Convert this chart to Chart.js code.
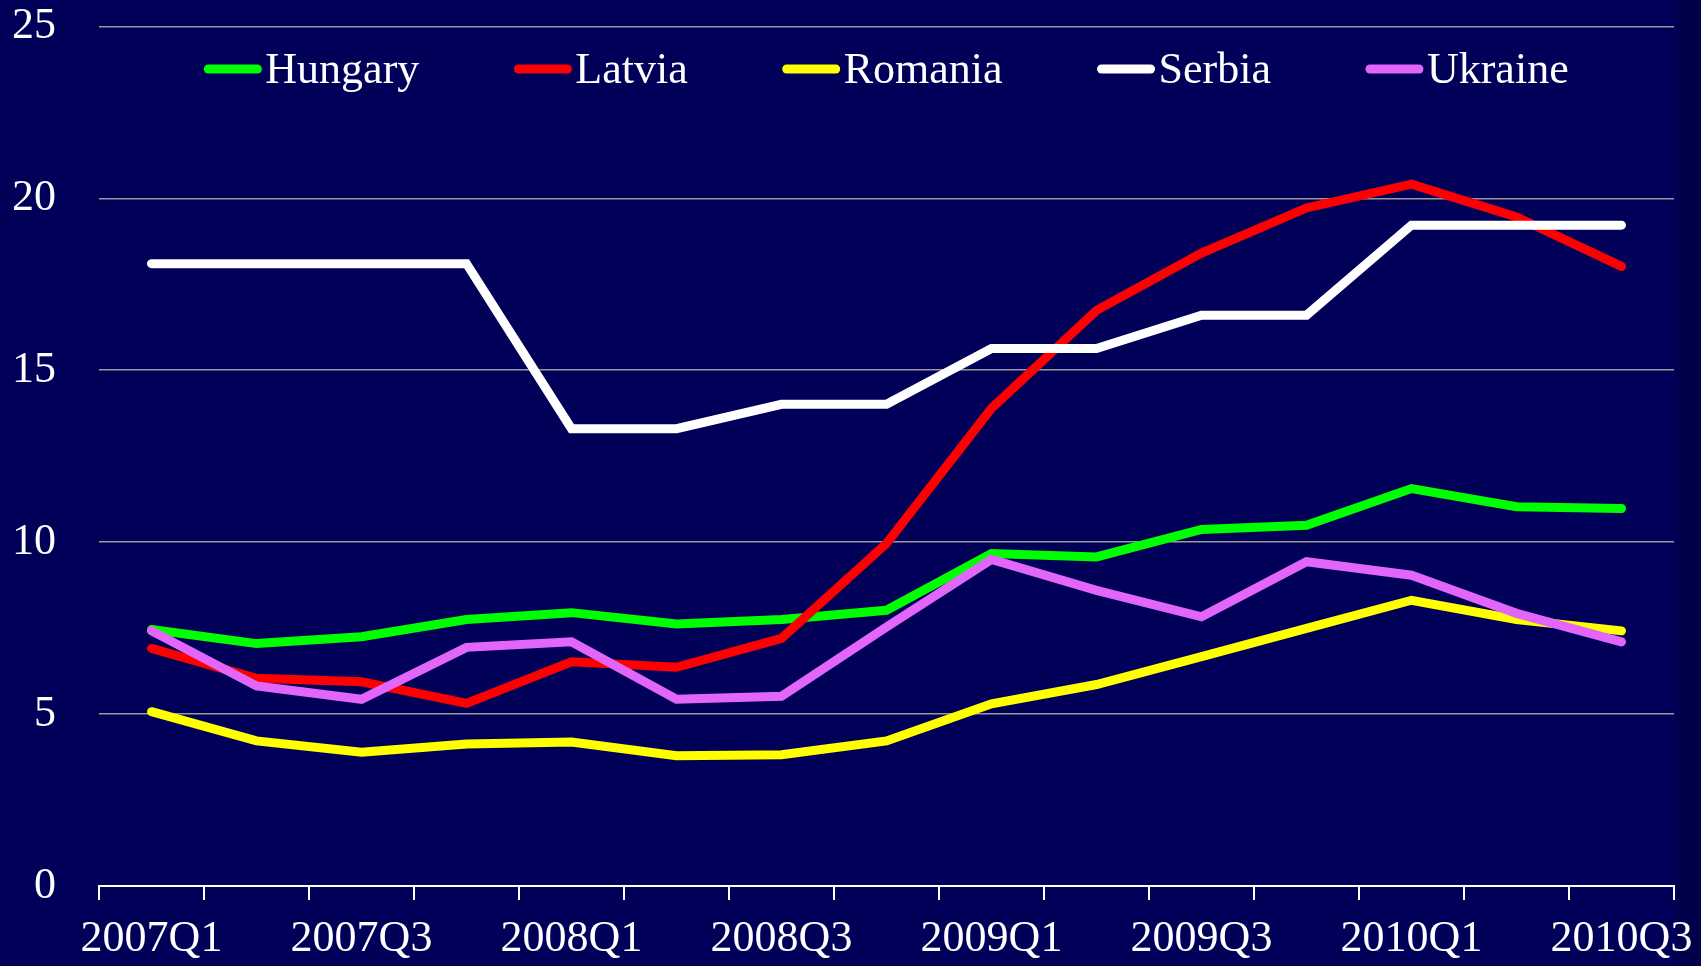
<!DOCTYPE html>
<html>
<head>
<meta charset="utf-8">
<script src="https://cdn.jsdelivr.net/npm/chart.js@4"></script>
<style>
    html, body {
        margin: 0;
        padding: 0;
        background: #00004b;
        overflow: hidden;
    }
    #wrap {
        width: 1701px;
        height: 966px;
    }
</style>
</head>
<body>
<div id="wrap"><canvas id="chart"></canvas></div>
<script>

const quarters = [
    "2007Q1", "2007Q2", "2007Q3", "2007Q4",
    "2008Q1", "2008Q2", "2008Q3", "2008Q4",
    "2009Q1", "2009Q2", "2009Q3", "2009Q4",
    "2010Q1", "2010Q2", "2010Q3"
];

const hungary = [7.46, 7.05, 7.25, 7.75, 7.95, 7.62, 7.75, 8.02, 9.67, 9.57, 10.37, 10.49, 11.56, 11.03, 10.98];

const latvia = [6.91, 6.04, 5.94, 5.31, 6.52, 6.36, 7.20, 9.96, 13.89, 16.74, 18.41, 19.72, 20.41, 19.46, 18.02];

const romania = [5.07, 4.22, 3.89, 4.13, 4.19, 3.79, 3.82, 4.22, 5.30, 5.86, 6.67, 7.49, 8.31, 7.75, 7.42];

const serbia = [18.10, 18.10, 18.10, 18.10, 13.30, 13.30, 14.01, 14.01, 15.63, 15.63, 16.60, 16.60, 19.22, 19.22, 19.22];

const ukraine = [7.42, 5.82, 5.43, 6.94, 7.10, 5.43, 5.52, 7.53, 9.50, 8.60, 7.83, 9.43, 9.04, 7.93, 7.10];

const yTicks = [0, 5, 10, 15, 20, 25];

const FONT = "'Liberation Serif', 'Times New Roman', serif";

function series(label, data, color, order) {

    return {
        label,
        data,
        borderColor: color,
        backgroundColor: color,
        borderWidth: 9,
        borderCapStyle: "round",
        pointRadius: 0,
        tension: 0,
        fill: false,
        order
    };

}

// page background: main panel plus the darker strip on the right
const backgroundPlugin = {

    id: "panelBackground",

    beforeDraw(chart) {

        const ctx = chart.ctx;

        ctx.save();
        ctx.fillStyle = "#00004b";
        ctx.fillRect(0, 0, chart.width, chart.height);
        ctx.fillStyle = "#000059";
        ctx.fillRect(0, 0, 1677, chart.height);
        ctx.restore();

    }

};

// legend sits inside the plot, under the top gridline
const legendPlugin = {

    id: "insideLegend",

    afterDraw(chart) {

        const ctx = chart.ctx;
        const area = chart.chartArea;

        const lineW = 57;
        const gap = 4;
        const spacing = 95;
        const y = 69;

        ctx.save();
        ctx.font = "44px " + FONT;

        const items = chart.data.datasets.map(ds => ({
            label: ds.label,
            color: ds.borderColor,
            w: ctx.measureText(ds.label).width
        }));

        const total = items.reduce((s, it) => s + lineW + gap + it.w, 0) +
            spacing * (items.length - 1);

        let x = (area.left + area.right) / 2 - total / 2;

        items.forEach(it => {

            ctx.strokeStyle = it.color;
            ctx.lineWidth = 9;
            ctx.lineCap = "round";
            ctx.beginPath();
            ctx.moveTo(x + 4, y);
            ctx.lineTo(x + lineW - 4, y);
            ctx.stroke();

            ctx.fillStyle = "#ffffff";
            ctx.textAlign = "left";
            ctx.textBaseline = "middle";
            ctx.fillText(it.label, x + lineW + gap, y + 2);

            x += lineW + gap + it.w + spacing;

        });

        ctx.restore();

    }

};

const chart = new Chart(document.getElementById("chart"), {

    type: "line",

    data: {

        labels: quarters,

        datasets: [
            series("Hungary", hungary, "#00ff00", 5),
            series("Latvia", latvia, "#ff0000", 4),
            series("Romania", romania, "#ffff00", 3),
            series("Serbia", serbia, "#ffffff", 2),
            series("Ukraine", ukraine, "#e266fa", 1)
        ]

    },

    options: {

        responsive: true,
        maintainAspectRatio: false,
        animation: false,
        events: [],

        layout: {
            padding: { top: 0, right: 27, bottom: 0, left: 0 }
        },

        plugins: {
            legend: { display: false },
            tooltip: { enabled: false }
        },

        scales: {

            x: {
                offset: true,
                grid: {
                    offset: true,
                    drawOnChartArea: false,
                    drawTicks: true,
                    tickLength: 14,
                    color: "#ffffff",
                    lineWidth: 2
                },
                border: {
                    display: true,
                    color: "#ffffff",
                    width: 2
                },
                ticks: {
                    autoSkip: false,
                    maxRotation: 0,
                    minRotation: 0,
                    padding: 13,
                    color: "#ffffff",
                    font: { family: FONT, size: 44 },
                    callback: (value, index) => index % 2 === 0 ? quarters[index] : ""
                },
                afterFit: scale => {
                    scale.height = 80;
                    scale.paddingRight = 0;
                }
            },

            y: {
                min: 0,
                max: 25,
                afterBuildTicks: scale => {
                    scale.ticks = yTicks.map(v => ({ value: v }));
                },
                grid: {
                    drawTicks: true,
                    tickLength: 43,
                    tickColor: "rgba(0,0,0,0)",
                    color: ctx => ctx.tick && ctx.tick.value === 0 ? "rgba(0,0,0,0)" : "#9a9a9a",
                    lineWidth: 1.5
                },
                border: { display: false },
                ticks: {
                    padding: 0,
                    color: "#ffffff",
                    font: { family: FONT, size: 44 }
                },
                afterFit: scale => {
                    scale.width = 99;
                }
            }

        }

    },

    plugins: [backgroundPlugin, legendPlugin]

});

</script>
</body>
</html>
